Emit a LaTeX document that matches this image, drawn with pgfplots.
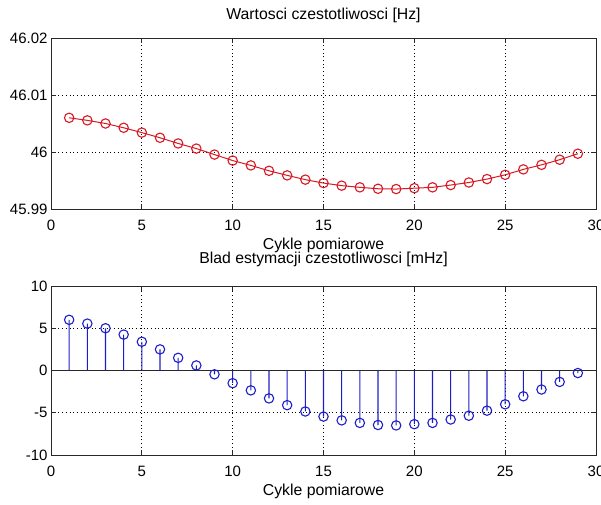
\documentclass[border=0pt]{standalone}
\usepackage{pgfplots}
\pgfplotsset{compat=1.18}
\usepackage{fontspec}
\setmainfont{Liberation Sans}

\definecolor{mred}{RGB}{215,25,35}
\definecolor{mblue}{RGB}{30,30,200}
\definecolor{maxis}{RGB}{40,40,40}

\begin{document}
\begin{tikzpicture}
\useasboundingbox (0pt,0pt) rectangle (601pt,504pt);
\pgfplotsset{
 mstyle/.style={
  scale only axis, width=545pt,
  xmin=0, xmax=30, xtick={0,5,...,30},
  tick align=inside, major tick length=5pt,
  xtick pos=both, ytick pos=both,
  grid=major, major grid style={black, line width=0.8pt, dash pattern=on 0.9pt off 2.8pt},
  axis line style={maxis, line width=0.9pt},
  every tick/.style={maxis, line width=0.9pt},
  tick label style={font=\fontsize{15}{18}\selectfont, text=black},
  /pgf/number format/assume math mode=true,
  xticklabel style={anchor=base, yshift=-21pt},
  title style={at={(axis description cs:0.5,1)}, anchor=base, inner sep=0pt, font=\fontsize{15.8}{19}\selectfont},
  xlabel style={at={(axis description cs:0.5,0)}, anchor=base, inner sep=0pt, yshift=-40pt, font=\fontsize{15.8}{19}\selectfont},
  xlabel={Cykle pomiarowe},
 }
}
% top axis
\begin{axis}[mstyle,
  at={(51pt,295pt)}, anchor=south west, height=171pt,
  ymin=45.99, ymax=46.02,
  ytick={45.99,46,46.01,46.02},
  yticklabels={45.99,46,46.01,46.02},
  title={Wartosci czestotliwosci [Hz]},
  title style={yshift=12.7pt},
]
\addplot[color=mred, line width=1pt, mark=o, mark size=4.7pt, mark options={color=mred, line width=1.1pt}] coordinates {
(1,46.0060) (2,46.00555) (3,46.0050) (4,46.00425) (5,46.0034) (6,46.0025)
(7,46.0015) (8,46.0006) (9,45.99955) (10,45.9985) (11,45.99765) (12,45.9967)
(13,45.9959) (14,45.99515) (15,45.99455) (16,45.9941) (17,45.9938) (18,45.99355)
(19,45.9935) (20,45.99365) (21,45.9938) (22,45.9942) (23,45.99465) (24,45.99525)
(25,45.9960) (26,45.99695) (27,45.99775) (28,45.99865) (29,45.9997)
};
\end{axis}
% bottom axis
\begin{axis}[mstyle,
  at={(51pt,49pt)}, anchor=south west, height=169pt,
  ymin=-10, ymax=10,
  ytick={-10,-5,0,5,10},
  title={Blad estymacji czestotliwosci [mHz]},
  title style={yshift=16.5pt},
]
\addplot[ybar, bar width=1.1pt, bar shift=0pt, fill=mblue, draw=none, mark=o, mark size=4.7pt, mark options={draw=mblue, fill=none, line width=1.1pt}] coordinates {
(1,6.0) (2,5.55) (3,5.0) (4,4.25) (5,3.4) (6,2.5) (7,1.5) (8,0.6) (9,-0.45)
(10,-1.5) (11,-2.35) (12,-3.3) (13,-4.1) (14,-4.85) (15,-5.45) (16,-5.9)
(17,-6.2) (18,-6.45) (19,-6.5) (20,-6.35) (21,-6.2) (22,-5.8) (23,-5.35)
(24,-4.75) (25,-4.0) (26,-3.05) (27,-2.25) (28,-1.35) (29,-0.3)
};
\addplot[color=maxis, line width=0.9pt] coordinates {(0,0) (30,0)};
\end{axis}
\end{tikzpicture}
\end{document}
